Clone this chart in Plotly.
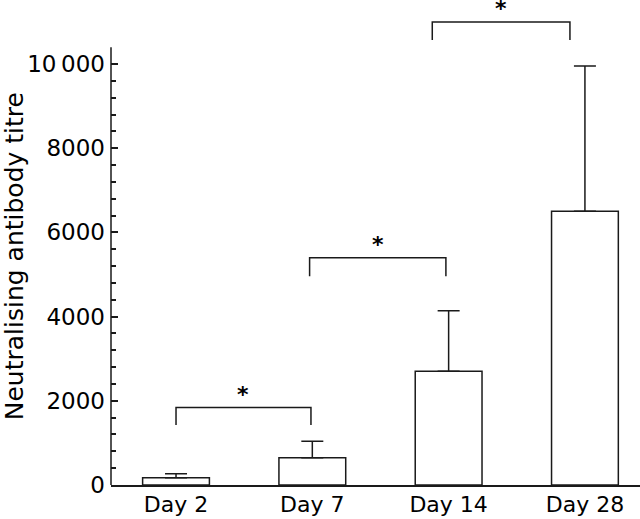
import plotly.graph_objects as go

days = ["Day 2", "Day 7", "Day 14", "Day 28"]
titre = [170, 650, 2700, 6500]
titre_err = [100, 390, 1440, 3450]

y_tickvals = [0, 2000, 4000, 6000, 8000, 10000]
y_ticktext = ["0", "2000", "4000", "6000", "8000", "10\u2009000"]
y_minor_vals = [v for v in range(400, 10400, 400) if v % 2000 != 0]
y_title = "Neutralising antibody titre"

# significance brackets (category-unit x positions)
br_x0 = [0.0, 0.98, 1.88]
br_x1 = [0.99, 1.98, 2.89]
br_top = [1840, 5400, 11000]
br_leg = [1425, 4960, 10570]
br_label = ["*", "*", "*"]

LINE = "#1a1a1a"
FONT = "DejaVu Sans"

fig = go.Figure()
fig.add_trace(go.Bar(
    x=list(range(len(days))), y=titre, width=0.49,
    marker=dict(color="white", line=dict(color=LINE, width=1.5)),
    error_y=dict(type="data", array=titre_err, arrayminus=[0]*len(days),
                 symmetric=False, color=LINE, thickness=1.5, width=11),
    showlegend=False,
))

shapes = []
annotations = []
for x0, x1, top, leg, lab in zip(br_x0, br_x1, br_top, br_leg, br_label):
    shapes.append(dict(type="path", xref="x", yref="y",
                       path=f"M {x0} {leg} L {x0} {top} L {x1} {top} L {x1} {leg}",
                       line=dict(color=LINE, width=1.5)))
    annotations.append(dict(x=(x0 + x1) / 2, y=top, xref="x", yref="y", text=f"<b>{lab}</b>",
                            showarrow=False, yanchor="middle", yshift=13,
                            font=dict(size=22, color="black", family=FONT)))

# y-axis title as a rotated annotation (centred like the reference)
annotations.append(dict(text=y_title, textangle=-90, showarrow=False,
                        xref="paper", yref="paper", x=-0.183, y=0.472,
                        xanchor="center", yanchor="middle",
                        font=dict(size=25, color="black", family=FONT)))

# y-axis line (ends a little above the top tick)
shapes.append(dict(type="line", xref="paper", yref="y", x0=0, x1=0, y0=0, y1=10400,
                   line=dict(color=LINE, width=1.5)))

fig.update_layout(
    width=640, height=519,
    margin=dict(l=111, r=0, t=0, b=34),
    plot_bgcolor="white", paper_bgcolor="white",
    font=dict(family=FONT, size=22, color="black"),
    shapes=shapes, annotations=annotations,
    xaxis=dict(range=[-0.477, 3.404], tickvals=list(range(len(days))), ticktext=days,
               showline=True, linecolor=LINE, linewidth=1.5, ticks="",
               showgrid=False, zeroline=False, tickfont=dict(size=22),
               ticklabelstandoff=-1),
    yaxis=dict(range=[0, 11520], tickvals=y_tickvals, ticktext=y_ticktext,
               showline=False, ticks="inside", ticklen=7, tickwidth=1.5, tickcolor=LINE,
               minor=dict(tickvals=y_minor_vals, ticks="inside", ticklen=5,
                          tickwidth=1.5, tickcolor=LINE),
               showgrid=False, zeroline=False, tickfont=dict(size=23),
               ticklabelstandoff=5, automargin=False),
)

fig.write_html("out.html", config={"displayModeBar": False},
               post_script="document.body.style.margin='0';")
